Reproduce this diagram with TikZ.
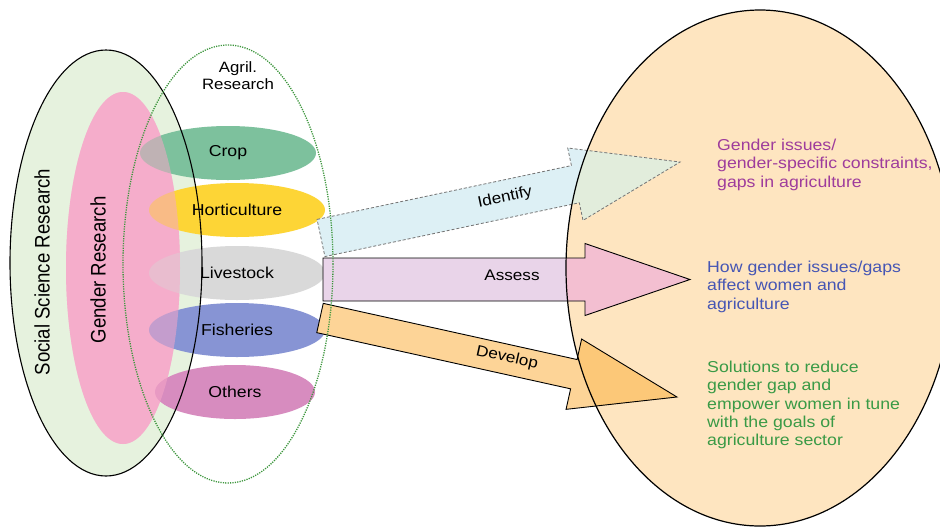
\documentclass[tikz,border=0pt]{standalone}
\usepackage{fontspec}
\usepackage{graphicx}
\setmainfont{Liberation Sans}[FakeStretch=1.12]
\newfontfamily\plainsans{Liberation Sans}
\usetikzlibrary{shapes.geometric}
\definecolor{socfill}{HTML}{E6F2DE}
\definecolor{pinkfill}{HTML}{F4B6CF}
\definecolor{pinkover}{HTML}{F7A6C8}
\definecolor{cropc}{HTML}{7DC19D}
\definecolor{hortc}{HTML}{FDD536}
\definecolor{livec}{HTML}{D9D9D9}
\definecolor{fishc}{HTML}{8794D4}
\definecolor{othc}{HTML}{D78CBF}
\definecolor{bigc}{HTML}{FEE5C0}
\definecolor{idshaft}{HTML}{DDF0F5}
\definecolor{idhead}{HTML}{E2EDDC}
\definecolor{asshaft}{HTML}{E9D4E9}
\definecolor{ashead}{HTML}{F3BFD1}
\definecolor{devshaft}{HTML}{FDD497}
\definecolor{devhead}{HTML}{FCC878}
\definecolor{agrgreen}{HTML}{3C963C}
\definecolor{txpurple}{HTML}{9E3C9C}
\definecolor{txblue}{HTML}{4656B4}
\definecolor{txgreen}{HTML}{3A9A46}
\newcommand{\blockarrow}[4]{(0,-#1) -- (#3,-#1) -- (#3,-#2) -- (#4,0) -- (#3,#2) -- (#3,#1) -- (0,#1) -- cycle}
\newcommand{\arrtext}[1]{\scalebox{1.12}[1]{\plainsans\fontsize{15.3}{18}\selectfont #1}}
\begin{document}
\begin{tikzpicture}[x=1pt,y=-1pt,
  cat/.style={ellipse, minimum width=176pt, minimum height=54pt, inner sep=0pt,
    font=\fontsize{15.8}{18}\selectfont},
  lbl/.style={font=\fontsize{15.8}{18.2}\selectfont, align=left, inner sep=0pt, anchor=north west},
  arrlbl/.style={inner sep=0pt},
  bigell/.style={x radius=194, y radius=258},
  socell/.style={x radius=96, y radius=213},
  pinkell/.style={x radius=57, y radius=176},
  agrell/.style={x radius=105, y radius=219}]
\useasboundingbox[fill=white] (0,0) rectangle (940,531);

% big result ellipse (fill)
\fill[bigc] (760,268) ellipse [bigell];

% left side
\fill[socfill] (106,263) ellipse [socell];
\fill[pinkfill] (123,268) ellipse [pinkell];

\node[cat, fill=cropc] (crop) at (228,153) {Crop};
\node[cat, fill=hortc] (hort) at (237,210) {Horticulture};
\node[cat, fill=livec] (live) at (237,273) {Livestock};
\node[cat, fill=fishc] (fish) at (237,330) {Fisheries};
\node[cat, fill=othc, minimum width=160pt] (oth) at (235,392) {Others};

\fill[pinkover, opacity=0.55] (123,268) ellipse [pinkell];
\draw[line width=1.1] (106,263) ellipse [socell];

\node[rotate=90] (ssr) at (42,272) {\scalebox{1}[1.13]{\plainsans\fontsize{18.6}{20}\selectfont Social Science Research}};
\node[rotate=90] (gr) at (98,270) {\scalebox{1}[1.13]{\plainsans\fontsize{18.6}{20}\selectfont Gender Research}};

% arrows: fills
\begin{scope}[shift={(321,238)}, rotate=11.95]
  \fill[idshaft] \blockarrow{19}{37}{260}{367};
\end{scope}
\begin{scope}[shift={(323,279.5)}]
  \fill[asshaft] \blockarrow{21.5}{36}{262}{367};
\end{scope}
\begin{scope}[shift={(320,318)}, rotate=-12.48]
  \fill[devshaft] \blockarrow{15}{36}{260}{365.6};
\end{scope}
\begin{scope}
  \clip (760,268) ellipse [bigell];
  \begin{scope}[shift={(321,238)}, rotate=11.95]
    \fill[idhead] \blockarrow{19}{37}{260}{367};
  \end{scope}
  \begin{scope}[shift={(323,279.5)}]
    \fill[ashead] \blockarrow{21.5}{36}{262}{367};
  \end{scope}
  \begin{scope}[shift={(320,318)}, rotate=-12.48]
    \fill[devhead] \blockarrow{15}{36}{260}{365.6};
  \end{scope}
\end{scope}
% arrows: outlines
\begin{scope}[shift={(321,238)}, rotate=11.95]
  \draw[black!55, dash pattern=on 3pt off 2pt, line width=0.8] \blockarrow{19}{37}{260}{367};
\end{scope}
\begin{scope}[shift={(323,279.5)}]
  \draw[line width=0.9] \blockarrow{21.5}{36}{262}{367};
\end{scope}
\begin{scope}[shift={(320,318)}, rotate=-12.48]
  \draw[line width=0.9] \blockarrow{15}{36}{260}{365.6};
\end{scope}

\node[arrlbl, rotate=11.95] (identify) at (505,198) {\arrtext{Identify}};
\node[arrlbl] (assess) at (512,275) {\arrtext{Assess}};
\node[arrlbl, rotate=-12.48] (develop) at (507,358) {\arrtext{Develop}};

% big ellipse border
\draw[line width=1.2] (760,268) ellipse [bigell];

% agricultural research dotted ellipse
\draw[agrgreen, dash pattern=on 1.2pt off 1.2pt, line width=1.3] (228,264) ellipse [agrell];
\node[font=\fontsize{15}{17}\selectfont, align=center, inner sep=0pt, anchor=north] (agr) at (238,61) {Agril.\\Research};

% result texts
\node[lbl, text=txpurple] (t1) at (717,139) {Gender issues/\\gender-specific constraints,\\gaps in agriculture};
\node[lbl, text=txblue] (t2) at (707,261) {How gender issues/gaps\\affect women and\\agriculture};
\node[lbl, text=txgreen] (t3) at (707,361) {Solutions to reduce\\gender gap and\\empower women in tune\\with the goals of\\agriculture sector};
\end{tikzpicture}
\end{document}
